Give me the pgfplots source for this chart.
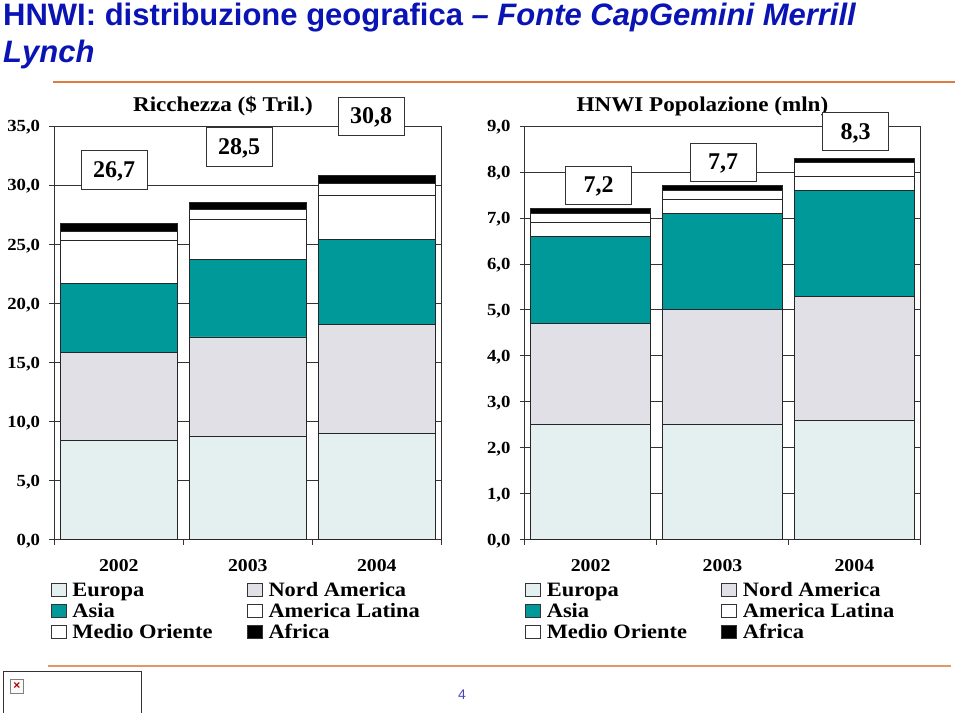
\documentclass[border=0pt]{standalone}
\usepackage{fontspec}
\usepackage{pgfplots}
\pgfplotsset{compat=1.18}
\setmainfont{Liberation Serif}
\newfontfamily\titlef{Liberation Sans}
\newfontfamily\wide[FakeStretch=1.1]{Liberation Serif}
\newcommand{\fs}[1]{\fontsize{#1}{#1}\selectfont}
\definecolor{eur}{HTML}{E4F0F0}
\definecolor{nam}{HTML}{E0E0E6}
\definecolor{asi}{HTML}{009999}
\definecolor{ruleo}{HTML}{DD7C3E}
\definecolor{tit}{HTML}{0A14B4}
\definecolor{axc}{HTML}{333333}
\newcommand{\PX}[2]{({#1pt},{713pt-#2pt})}
\newcommand{\lbox}[5]{\draw[draw=axc,fill=white,line width=0.9pt] \PX{#1}{#2} rectangle \PX{#3}{#4};
  \node[inner sep=0pt,yshift=-1.5pt] at ({(#1+#3)/2*1pt},{(713-(#2+#4)/2)*1pt}) {\bfseries\fs{24}#5};}
\pgfplotsset{common/.style={
  scale only axis,
  anchor=south west,
  ybar stacked,
  ymin=0,
  xmin=-0.5,xmax=2.5,
  xtick={0,1,2},
  xticklabels={2002,2003,2004},
  minor xtick={-0.5,0.5,1.5,2.5},
  major tick length=5pt,
  minor tick length=5pt,
  major x tick style={draw=none},
  minor x tick style={draw=axc,line width=0.8pt},
  ytick pos=left,
  xtick pos=bottom,
  tick align=outside,
  axis line style={draw=axc,line width=0.9pt},
  ymajorgrids,
  y grid style={draw=axc,line width=0.8pt},
  y tick style={draw=axc,line width=0.8pt},
  /pgf/number format/assume math mode=true,
  /pgf/number format/.cd,fixed,fixed zerofill,precision=1,use comma,/pgfplots/.cd,
  yticklabel style={font=\wide\bfseries\fs{17},inner sep=0pt,xshift=-9pt,yshift=-1.5pt},
  xticklabel style={font=\wide\bfseries\fs{18},inner sep=0pt,yshift=-15pt},
  every axis plot/.append style={draw=black!85,line width=0.9pt},
  legend columns=2,
  legend cell align=left,
  legend style={draw=none,fill=none,font=\wide\bfseries\fs{20.4},inner sep=0pt,
    /tikz/every even column/.append style={column sep=34pt},
    /tikz/every odd column/.append style={column sep=6pt},
    nodes={inner sep=0pt,minimum height=21pt,anchor=west}},
  legend image code/.code={\draw[##1,draw=axc,line width=0.9pt] (0pt,-6.5pt) rectangle (15pt,6.5pt);},
}}
\begin{document}
\begin{tikzpicture}
\useasboundingbox (0,0) rectangle (960pt,713pt);
\begin{axis}[common,at={(54.3pt,173.3pt)},width=387pt,height=413.7pt,
  ymax=35,ytick distance=5,bar width=117pt,
  legend style={at={(-4pt,-40pt)},anchor=north west}]
\addplot[fill=eur] coordinates {(0,8.4)(1,8.7)(2,9.0)};
\addplot[fill=nam] coordinates {(0,7.4)(1,8.45)(2,9.2)};
\addplot[fill=asi] coordinates {(0,5.9)(1,6.55)(2,7.2)};
\addplot[fill=white] coordinates {(0,3.65)(1,3.4)(2,3.75)};
\addplot[fill=white] coordinates {(0,0.75)(1,0.85)(2,0.95)};
\addplot[fill=black] coordinates {(0,0.65)(1,0.55)(2,0.7)};
\legend{Europa,Nord America,Asia,America Latina,Medio Oriente,Africa}
\end{axis}
\begin{axis}[common,at={(524.7pt,173.3pt)},width=395.6pt,height=413.7pt,
  ymax=9,ytick distance=1,bar width=120pt,
  legend style={at={(0pt,-40pt)},anchor=north west}]
\addplot[fill=eur] coordinates {(0,2.5)(1,2.5)(2,2.6)};
\addplot[fill=nam] coordinates {(0,2.2)(1,2.5)(2,2.7)};
\addplot[fill=asi] coordinates {(0,1.9)(1,2.1)(2,2.3)};
\addplot[fill=white] coordinates {(0,0.3)(1,0.3)(2,0.3)};
\addplot[fill=white] coordinates {(0,0.2)(1,0.2)(2,0.3)};
\addplot[fill=black] coordinates {(0,0.1)(1,0.1)(2,0.1)};
\legend{Europa,Nord America,Asia,America Latina,Medio Oriente,Africa}
\end{axis}
% titles
\node[anchor=base west,inner sep=0pt,text=tit] at \PX{3}{26} {\titlef\bfseries\fs{31}HNWI: distribuzione geografica \textit{– Fonte CapGemini Merrill}};
\node[anchor=base west,inner sep=0pt,text=tit] at \PX{3}{63} {\titlef\bfseries\itshape\fs{31}Lynch};
\draw[ruleo,line width=2.2pt] \PX{53}{81.7} -- \PX{955}{81.7};
\draw[ruleo!80,line width=2pt] \PX{48}{665.5} -- \PX{951}{665.5};
\node[inner sep=0pt] at \PX{223}{106.5} {\wide\bfseries\fs{21}Ricchezza (\$ Tril.)};
\node[inner sep=0pt] at \PX{702.5}{106.5} {\wide\bfseries\fs{21}HNWI Popolazione (mln)};
\lbox{81}{150.7}{147.3}{189.3}{26,7}
\lbox{206}{127.7}{272.3}{166}{28,5}
\lbox{338}{97.3}{404.3}{135.3}{30,8}
\lbox{565.3}{166}{631.7}{204.3}{7,2}
\lbox{690}{143.3}{756.3}{181.3}{7,7}
\lbox{822.3}{112.3}{888.7}{150.7}{8,3}
% footer
\draw[axc,line width=0.9pt] \PX{3.5}{713} -- \PX{3.5}{671.5} -- \PX{141}{671.5} -- \PX{141}{713};
\draw[gray,fill=white!95!gray,line width=0.8pt] \PX{10.5}{679.5} rectangle \PX{23}{693};
\node[inner sep=0pt,text=red!70!black] at \PX{16.8}{686} {\titlef\bfseries\fs{12}×};
\node[inner sep=0pt,text=blue!45!gray] at \PX{462}{695} {\titlef\fs{14}4};
\end{tikzpicture}
\end{document}
